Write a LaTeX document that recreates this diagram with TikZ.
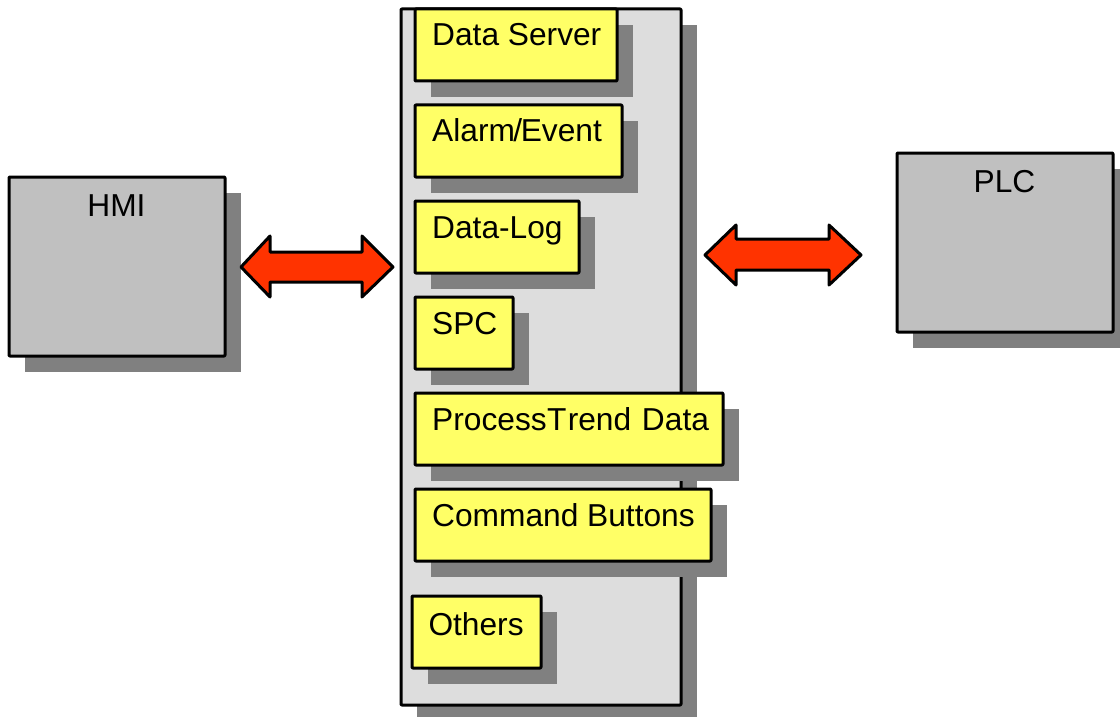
\documentclass[tikz,border=0pt]{standalone}
\usepackage{fontspec}
\setmainfont{Liberation Sans}
\definecolor{panelgray}{HTML}{DDDDDD}
\definecolor{boxgray}{HTML}{C0C0C0}
\definecolor{shadowgray}{HTML}{808080}
\definecolor{noteyellow}{HTML}{FFFF66}
\definecolor{arrowred}{HTML}{FF3300}
\tikzset{
  x=1pt,y=-1pt,
  outlined/.style={draw=black,line width=3pt,line join=round,rounded corners=0.8pt},
  panelbox/.style={outlined,fill=panelgray},
  greybox/.style={outlined,fill=boxgray},
  yellowbox/.style={outlined,fill=noteyellow},
  shade rect/.style={fill=shadowgray,draw=none},
  blockarrow/.style={draw=black,line width=3pt,line join=round,fill=arrowred},
  caption/.style={font=\fontsize{31.7}{36}\selectfont,inner sep=0pt,anchor=base west,text=black},
  captionc/.style={font=\fontsize{31.7}{36}\selectfont,inner sep=0pt,anchor=base,text=black}
}
% name, x1, y1, x2, y2, style
\newcommand{\shadowedbox}[6]{%
  \fill[shade rect] (#2+16,#3+16) rectangle (#4+16,#5+16);
  \draw[#6] (#2,#3) rectangle (#4,#5);
  \coordinate (#1) at ({(#2+#4)/2},{(#3+#5)/2});
}
\begin{document}
\begin{tikzpicture}
\path[use as bounding box] (0,0) rectangle (1120,717);
\clip (0,0) rectangle (1120,717);
\fill[white] (0,0) rectangle (1120,717);

\shadowedbox{hmi}{9}{177}{225}{356}{greybox}
\shadowedbox{plc}{897}{153}{1113}{332}{greybox}
\shadowedbox{panel}{401}{9}{681}{705}{panelbox}

\shadowedbox{ds}{415}{9}{617}{81}{yellowbox}
\shadowedbox{ae}{415}{105}{622}{177}{yellowbox}
\shadowedbox{dl}{415}{201}{579}{273}{yellowbox}
\shadowedbox{spc}{415}{297}{513}{369}{yellowbox}
\shadowedbox{pt}{415}{393}{723}{465}{yellowbox}
\shadowedbox{cb}{415}{489}{711}{561}{yellowbox}
\shadowedbox{ot}{412}{596}{541}{668}{yellowbox}

\node[captionc] (thmi) at (116.5,216) {HMI};
\node[captionc] (tplc) at (1004.5,192) {PLC};
\node[caption] (tds) at (432,46) {Data Server};
\node[caption] (tae) at (432,142) {Alarm\kern-1.5pt/\kern-1.5pt Event};
\node[caption] (tdl) at (432,238) {Data-Log};
\node[caption] (tspc) at (432,334) {SPC};
\node[caption] (tpt) at (432,430) {Process\kern0.5pt T\kern1.2pt rend\kern1pt{} \kern1pt Data};
\node[caption] (tcb) at (432,526) {Command Buttons};
\node[caption] (tot) at (428.3,635) {Others};

\draw[blockarrow] (241,267) -- (270,236) -- (270,252) -- (362,252) -- (362,236)
  -- (393,267) -- (362,297) -- (362,282) -- (270,282) -- (270,297) -- cycle;
\draw[blockarrow] (705,255) -- (736,225) -- (736,239) -- (829,239) -- (829,225)
  -- (861,255) -- (829,285) -- (829,270) -- (736,270) -- (736,285) -- cycle;
\end{tikzpicture}
\end{document}
